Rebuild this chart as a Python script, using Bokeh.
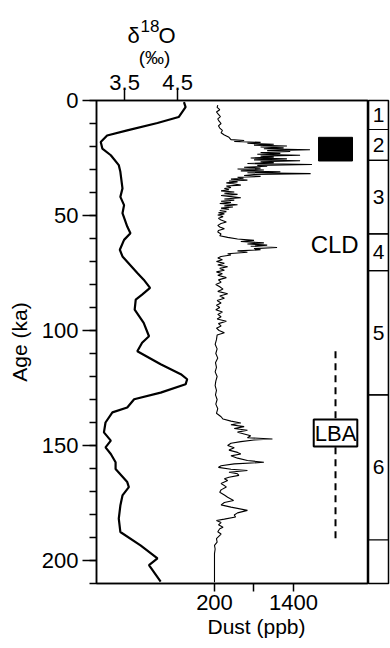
from bokeh.plotting import figure
from bokeh.models import Range1d, LinearAxis, FixedTicker, Label, Title
from bokeh.layouts import row, column
from bokeh.embed import file_html
from bokeh.resources import INLINE
from bokeh.core.properties import value

FONT = "Liberation Sans"

# ---------------- data ----------------
age_ticks = [0, 50, 100, 150, 200]
age_minor_ticks = list(range(0, 211, 10))
d18o_ticks = [3.5, 4.5]
dust_ticks = [200, 800, 1400]

d18o_age = [0.7, 2.9, 7.2, 9.8, 13.0, 15.2, 18.0, 20.9, 23.8, 28.1, 31.0, 38.2, 41.9, 45.5,
            49.0, 54.8, 57.7, 60.6, 64.9, 67.8, 75.0, 77.9, 81.5, 84.4, 86.6, 90.9, 96.7,
            102.5, 105.3, 109.0, 114.7, 119.0, 121.2, 123.4, 127.0, 129.9, 133.5, 135.6,
            140.0, 144.3, 147.9, 150.8, 153.7, 157.3, 160.2, 165.9, 168.1, 171.7, 176.1,
            181.8, 187.6, 193.4, 199.1, 202.0, 209.2]
d18o_val = [4.62, 4.65, 4.52, 4.12, 3.55, 3.17, 3.05, 3.08, 3.24, 3.39, 3.42, 3.46, 3.42, 3.49,
            3.46, 3.55, 3.61, 3.49, 3.41, 3.46, 3.74, 3.86, 3.98, 3.83, 3.71, 3.69, 3.86,
            3.96, 3.83, 3.74, 4.18, 4.56, 4.68, 4.65, 4.18, 3.68, 3.55, 3.27,
            3.14, 3.11, 3.24, 3.14, 3.24, 3.33, 3.33, 3.55, 3.58, 3.46, 3.42,
            3.39, 3.42, 3.80, 4.12, 3.96, 4.18]

dust_age = [2.0, 3.0, 4.0, 5.0, 6.0, 7.0, 8.0, 9.0, 10.0, 11.0, 12.0, 13.0, 14.0, 15.0, 16.0,
            17.0, 17.4, 17.8, 18.2, 18.6, 19.0, 19.4, 19.8, 20.2, 20.6, 21.0, 21.4, 21.8,
            22.2, 22.6, 23.0, 23.4, 23.8, 24.2, 24.6, 25.0, 25.4, 25.8, 26.2, 26.6, 27.0,
            27.4, 27.8, 28.2, 28.6, 29.0, 29.4, 29.8, 30.2, 30.6, 31.0, 31.4, 31.8, 32.2,
            32.6, 33.0, 33.4, 33.8, 34.2, 34.6, 35.0, 35.4, 35.8, 36.2, 36.8, 37.2, 37.8,
            38.3, 38.8, 39.3, 39.8, 40.3, 40.8, 41.3, 41.8, 42.3, 42.8, 43.3, 43.8, 44.3,
            44.8, 45.3, 45.8, 46.3, 46.8, 47.3, 47.8, 48.3, 48.8, 49.3, 49.8, 50.5, 51.2,
            52.0, 52.8, 53.5, 54.3, 55.0, 55.8, 56.5, 57.2, 58.0, 58.8, 59.5, 60.2, 60.8,
            61.3, 61.9, 62.4, 62.9, 63.4, 63.9, 64.4, 64.9, 65.4, 66.0, 66.6, 67.2, 67.8,
            68.5, 69.2, 70.0, 70.8, 71.5, 72.3, 73.0, 73.8, 74.5, 75.3, 76.0, 77.0, 78.0,
            79.0, 80.0, 81.0, 82.0, 83.0, 84.0, 85.0, 86.0, 87.0, 88.0, 89.0, 90.0, 91.0,
            92.0, 93.0, 94.0, 95.0, 96.0, 97.0, 98.0, 99.0, 100.0, 101.0, 102.0, 104.0,
            106.0, 108.0, 110.0, 112.0, 114.0, 116.0, 118.0, 120.0, 122.0, 124.0, 126.0,
            128.0, 130.0, 132.0, 134.0, 136.0, 137.5, 138.5, 139.4, 140.2, 141.0, 141.8,
            142.6, 143.4, 144.2, 145.0, 145.8, 146.6, 147.2, 147.6, 148.3, 149.0, 150.0,
            151.0, 152.0, 153.0, 153.7, 154.5, 155.5, 156.5, 157.3, 158.0, 158.8, 159.5,
            160.3, 160.9, 161.6, 162.3, 163.0, 163.8, 164.5, 165.2, 166.5, 168.0, 169.3,
            170.3, 171.5, 172.5, 173.9, 174.8, 175.8, 176.8, 178.2, 179.3, 180.2, 181.1,
            182.0, 182.6, 183.5, 184.5, 185.5, 186.2, 187.5, 188.5, 190.5, 192.0, 193.4,
            195.0, 197.0, 200.0, 203.0, 206.0, 209.5]
dust_val = [250, 240, 280, 230, 260, 290, 250, 270, 300, 260, 280, 320, 300, 350, 420,
            450, 650, 500, 900, 700, 1100, 800, 1300, 900, 1250, 950, 1650, 1000,
            1350, 900, 1200, 850, 1500, 900, 1100, 750, 1300, 800, 1500, 900, 1100,
            700, 1680, 850, 1000, 650, 900, 550, 950, 600, 1200, 700, 1660, 800,
            650, 900, 550, 640, 450, 700, 420, 550, 380, 480, 600, 380, 450,
            350, 420, 300, 500, 350, 550, 300, 450, 600, 350, 500, 300, 450,
            280, 550, 350, 480, 300, 420, 280, 380, 260, 350, 250, 330, 260,
            300, 380, 300, 250, 280, 350, 260, 250, 300, 280, 400, 550, 800,
            600, 950, 700, 1000, 750, 1150, 800, 900, 550, 700, 400, 450, 300,
            250, 320, 230, 350, 250, 400, 280, 350, 230, 320, 250, 380, 260,
            300, 220, 280, 330, 250, 400, 280, 350, 240, 300, 230, 280, 220,
            320, 250, 300, 240, 380, 260, 300, 230, 270, 350, 240, 230,
            210, 240, 220, 250, 215, 230, 210, 240, 220, 210, 230,
            215, 240, 220, 250, 230, 300, 330, 450, 600, 450, 650,
            500, 700, 550, 650, 750, 700, 1080, 800, 600, 450, 400,
            500, 420, 550, 600, 450, 550, 700, 950, 500, 300, 260,
            450, 700, 420, 550, 570, 420, 350, 400, 300, 380, 300,
            280, 350, 400, 490, 350, 300, 450, 700, 550, 500, 520,
            350, 230, 300, 260, 330, 280, 250, 300, 230, 240, 200,
            210, 200, 200, 200, 200, 200]

mis_labels = ["1", "2", "3", "4", "5", "6"]
mis_top = [0.0, 12.6, 26.0, 58.0, 74.0, 128.0]
mis_bottom = [12.6, 26.0, 58.0, 74.0, 128.0, 191.0]

lgm_box_age = [16.0, 26.3]
lgm_box_dust = [1780, 2296]
cld_age, cld_dust = 62.8, 2390
lba_age, lba_dust = 144.6, 2038
lba_line_age = [109.0, 191.0]

# ---------------- header (δ18O title) ----------------
HEAD = 70
hd = figure(width=390, height=HEAD, x_range=Range1d(0, 390), y_range=Range1d(HEAD, 0),
            x_axis_location=None, y_axis_location=None, output_backend="svg",
            toolbar_location=None, min_border=0, min_border_left=0, min_border_right=0,
            min_border_top=0, min_border_bottom=0)
hd.outline_line_color = None
hd.xgrid.visible = False
hd.ygrid.visible = False

def htext(x, y, t, size, align="left"):
    hd.text(x=[x], y=[y], text=[t], text_font=value(FONT), text_font_size=size,
            text_align=align, text_baseline="alphabetic", text_color="black")

htext(127, 35, "\u03b4", "22px")
htext(140, 25, "18", "17px")
htext(158, 35, "O", "22px")
htext(154, 57, "(\u2030)", "19px", "center")

# ---------------- main figure ----------------
H = 578
p = figure(width=368, height=H, x_range=Range1d(2.97, 8.10), y_range=Range1d(210, 0),
           x_axis_location="above", output_backend="svg", toolbar_location=None,
           min_border_left=96, min_border_right=0, min_border_top=30, min_border_bottom=65)
p.extra_x_ranges = {"dust": Range1d(-1592, 2539)}
p.xgrid.visible = False
p.ygrid.visible = False
p.outline_line_color = "black"
p.outline_line_width = 1.5

def style_axis(ax):
    ax.axis_line_width = 1.5
    ax.axis_line_color = "black"
    ax.major_tick_line_width = 1.5
    ax.minor_tick_line_width = 1.5
    ax.major_tick_in = 0
    ax.minor_tick_in = 0
    ax.major_label_text_font = FONT
    ax.major_label_text_font_size = "22px"
    ax.major_label_text_color = "black"
    ax.axis_label_text_font = FONT
    ax.axis_label_text_font_size = "21px"
    ax.axis_label_text_font_style = "normal"
    ax.axis_label_text_color = "black"

ya = p.yaxis[0]
ya.ticker = FixedTicker(ticks=age_ticks, minor_ticks=age_minor_ticks)
style_axis(ya)
ya.major_tick_out = 14
ya.minor_tick_out = 7
ya.major_label_standoff = 4
ya.axis_label = "Age (ka)"
ya.axis_label_standoff = 8

xa = p.xaxis[0]
xa.ticker = FixedTicker(ticks=d18o_ticks, minor_ticks=[])
style_axis(xa)
xa.major_tick_out = 11
xa.major_label_standoff = 0

da = LinearAxis(x_range_name="dust", ticker=FixedTicker(ticks=dust_ticks, minor_ticks=[]),
                major_label_overrides={800: ""})
style_axis(da)
da.major_tick_out = 8
da.major_label_standoff = 3
p.add_layout(da, "below")

p.add_layout(Title(text="Dust (ppb)", align="left", offset=111, text_font=FONT,
                   text_font_size="21px", text_font_style="normal", text_color="black",
                   standoff=0), "below")

# curves
p.line(d18o_val, d18o_age, line_color="black", line_width=2.2)
p.line(dust_val, dust_age, x_range_name="dust", line_color="black", line_width=1.1)

# LGM black box
p.quad(left=[lgm_box_dust[0]], right=[lgm_box_dust[1]], top=[lgm_box_age[0]],
       bottom=[lgm_box_age[1]], x_range_name="dust", fill_color="black", line_color="black")

# LBA dashed line
p.line([lba_dust, lba_dust], lba_line_age, x_range_name="dust", line_color="black",
       line_width=2, line_dash="7 5")

p.add_layout(Label(x=cld_dust, y=cld_age, x_range_name="dust", text="CLD",
                   text_align="right", text_baseline="middle", text_font=FONT,
                   text_font_size="24px", text_color="black"))
p.add_layout(Label(x=lba_dust, y=lba_age, x_range_name="dust", text="LBA",
                   text_align="center", text_baseline="middle", text_font=FONT,
                   text_font_size="22px", text_color="black",
                   background_fill_color="white", border_line_color="black",
                   border_line_width=2, padding=1))

# ---------------- MIS strip ----------------
s = figure(width=22, height=H, x_range=Range1d(0, 1), y_range=Range1d(210, 0),
           x_axis_location=None, y_axis_location=None, output_backend="svg",
           toolbar_location=None, min_border_left=0, min_border_right=2,
           min_border_top=30, min_border_bottom=65)
s.xgrid.visible = False
s.ygrid.visible = False
s.outline_line_color = "black"
s.outline_line_width = 1.5
s.quad(left=0, right=1, top=mis_top, bottom=mis_bottom, fill_color=None,
       line_color="black", line_width=1.2)
mis_mid = [(a + b) / 2 for a, b in zip(mis_top, mis_bottom)]
s.text(x=[0.5] * len(mis_labels), y=mis_mid, text=mis_labels, text_align="center",
       text_baseline="middle", text_font=value(FONT), text_font_size="21px",
       text_color="black")

layout = column(hd, row(p, s))
open("out.html", "w").write(file_html(layout, INLINE))
